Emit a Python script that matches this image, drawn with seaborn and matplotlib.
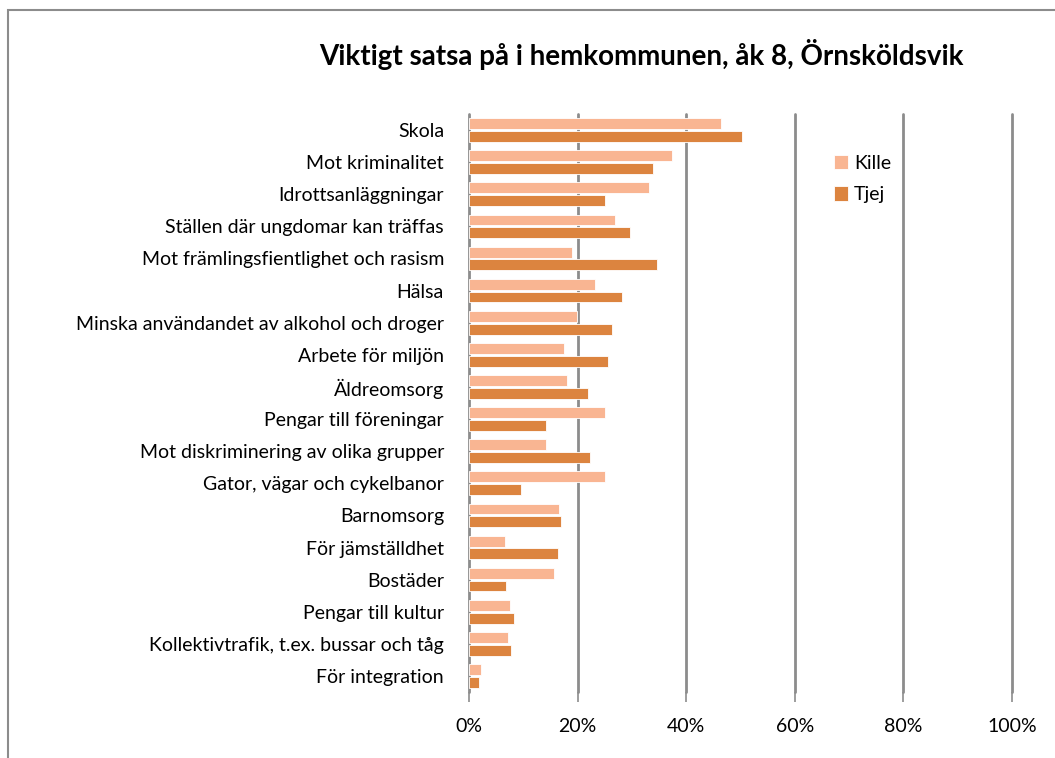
import numpy as np
import pandas as pd
import seaborn as sns
import matplotlib.pyplot as plt
from matplotlib.patches import Rectangle
from matplotlib.ticker import PercentFormatter

# ---- data (share of pupils) ----
categories = [
    "Skola", "Mot kriminalitet", "Idrottsanläggningar",
    "Ställen där ungdomar kan träffas", "Mot främlingsfientlighet och rasism",
    "Hälsa", "Minska användandet av alkohol och droger", "Arbete för miljön",
    "Äldreomsorg", "Pengar till föreningar", "Mot diskriminering av olika grupper",
    "Gator, vägar och cykelbanor", "Barnomsorg", "För jämställdhet", "Bostäder",
    "Pengar till kultur", "Kollektivtrafik, t.ex. bussar och tåg", "För integration",
]
kille = [46.4, 37.4, 33.2, 26.9, 19.0, 23.2, 19.8, 17.5, 18.0,
         25.1, 14.2, 25.1, 16.6, 6.6, 15.6, 7.5, 7.1, 2.3]
tjej = [50.2, 33.8, 25.1, 29.7, 34.6, 28.2, 26.4, 25.6, 21.9,
        14.2, 22.3, 9.6, 16.9, 16.3, 6.8, 8.2, 7.7, 1.8]
series = ["Kille", "Tjej"]
colors = ["#F9B592", "#DC843F"]

df = pd.DataFrame({
    "Område": categories * 2,
    "Andel": np.array(kille + tjej) / 100,
    "Kön": ["Kille"] * len(categories) + ["Tjej"] * len(categories),
})

sns.set_style("white")
plt.rcParams["font.family"] = ["Lato", "DejaVu Sans"]
plt.rcParams["text.color"] = "black"
plt.rcParams["xtick.labelcolor"] = "black"
plt.rcParams["ytick.labelcolor"] = "black"

fig = plt.figure(figsize=(10.55, 7.58), dpi=100)
ax = fig.add_axes([469 / 1055, 1 - 692 / 758, 543 / 1055, 578 / 758])

sns.barplot(data=df, x="Andel", y="Område", hue="Kön", hue_order=series,
            palette=colors, saturation=1, orient="h", width=0.8, gap=0.15,
            ax=ax, edgecolor="white", linewidth=0.6)
for p in ax.patches:
    p.set_zorder(3)

ax.set_xlim(0, 1)
ax.set_ylim(len(categories) - 0.5, -0.5)
ticks = np.arange(0, 1.01, 0.2)
ax.set_xticks(ticks)
ax.xaxis.set_major_formatter(PercentFormatter(1.0, decimals=0))
for t in ticks:
    ax.axvline(t, color="#8C8C8C", lw=2, clip_on=False, zorder=1)
for s in ax.spines.values():
    s.set_visible(False)

ax.tick_params(axis="x", length=7, width=1.2, color="#8C8C8C", pad=12,
               labelsize=14, bottom=True)
ax.tick_params(axis="y", length=0, pad=18, labelsize=14)
ax.set_xlabel("")
ax.set_ylabel("")

ax.legend(loc="upper left", bbox_to_anchor=(826 / 1055, 1 - 147 / 758),
          bbox_transform=fig.transFigure, frameon=False, fontsize=14,
          handlelength=0.75, handleheight=0.75, handletextpad=0.3,
          labelspacing=0.75, borderaxespad=0)

fig.text(641 / 1055, 1 - 55 / 758,
         "Viktigt satsa på i hemkommunen, åk 8, Örnsköldsvik",
         ha="center", va="center", fontsize=20, fontweight="bold")

fig.patches.append(Rectangle((8 / 1055, -0.1), 1.2, 1 - 10 / 758 + 0.1,
                             transform=fig.transFigure, fill=False,
                             edgecolor="#8C8C8C", lw=1.5))

fig.savefig("out.png", dpi=100)
